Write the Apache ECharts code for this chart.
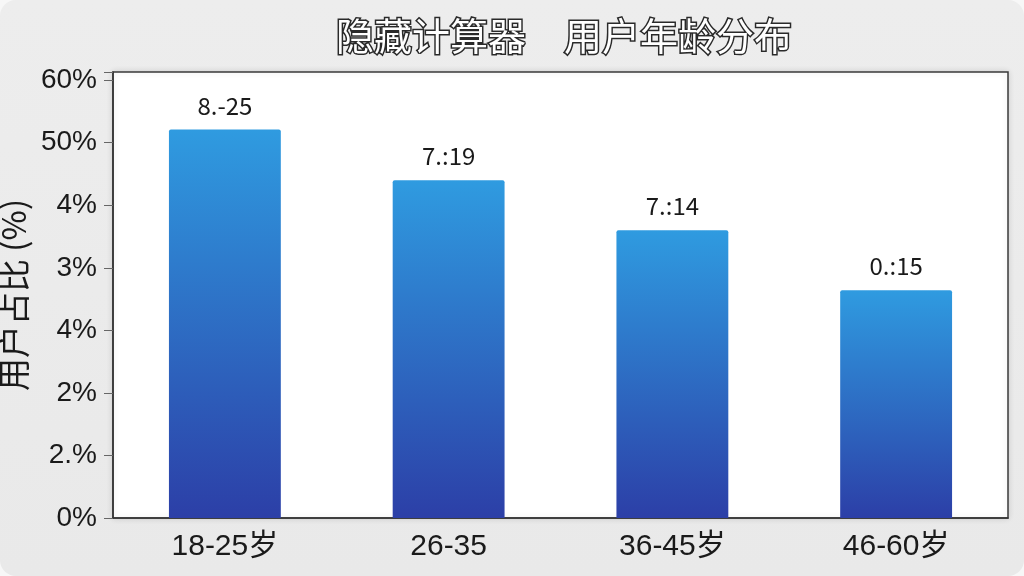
<!DOCTYPE html>
<html>
<head>
<meta charset="utf-8">
<title>用户年龄分布</title>
<script src="https://cdn.jsdelivr.net/npm/echarts@6/dist/echarts.min.js"></script>
<style>
  html, body { margin: 0; padding: 0; background: #f7f7f7; }
  #mainChart { width: 1024px; height: 576px; border-radius: 16px; overflow: hidden; }
</style>
</head>
<body>
<div id="mainChart"></div>
<script>
// chart data
var categories = ['18-25岁', '26-35', '36-45岁', '46-60岁'];
var shares = [62.1, 54.0, 46.0, 36.4];
var barLabels = ['8.-25', '7.:19', '7.:14', '0.:15'];
var yTickLabels = ['0%', '2.%', '2%', '4%', '3%', '4%', '50%', '60%'];

var CJK = '"Noto Sans CJK SC", sans-serif';
var SANS = '"Liberation Sans", "Noto Sans CJK SC", sans-serif';

function chartInit() {
  var myChart = echarts.init(document.getElementById('mainChart'));

  var option = {
    backgroundColor: new echarts.graphic.LinearGradient(0, 0, 0, 1, [
      { offset: 0, color: '#ededed' },
      { offset: 1, color: '#e9e9e9' }
    ]),
    title: {
      text: '隐藏计算器\u3000用户年龄分布',
      left: 331,
      top: 12,
      textStyle: {
        fontFamily: CJK,
        fontSize: 38,
        fontWeight: 'normal',
        color: '#ffffff',
        textBorderColor: '#2a2a2a',
        textBorderWidth: 3
      }
    },
    grid: {
      left: 113,
      right: 16,
      top: 72,
      bottom: 58,
      outerBoundsMode: 'none',
      containLabel: false,
      show: true,
      backgroundColor: '#ffffff',
      borderColor: '#3a3a3a',
      borderWidth: 1.5,
      shadowColor: 'rgba(0,0,0,0.12)',
      shadowBlur: 6
    },
    xAxis: {
      type: 'category',
      data: categories,
      axisLine: { lineStyle: { color: '#333', width: 1.5 } },
      axisTick: { alignWithLabel: true, length: 7, lineStyle: { color: '#555' } },
      axisLabel: {
        margin: 14,
        fontFamily: SANS,
        fontSize: 30,
        color: '#1a1a1a'
      }
    },
    yAxis: {
      type: 'value',
      min: 0,
      max: 71.3,
      interval: 10,
      name: '用户占比 (%)',
      nameLocation: 'middle',
      nameRotate: 90,
      nameGap: 72,
      nameTextStyle: {
        fontFamily: CJK,
        fontSize: 33,
        color: '#1a1a1a'
      },
      axisLine: { show: true, lineStyle: { color: '#333', width: 1.5 } },
      axisTick: { show: true, length: 9, lineStyle: { color: '#666' } },
      splitLine: { show: false },
      axisLabel: {
        margin: 16,
        fontFamily: SANS,
        fontSize: 28,
        color: '#1a1a1a',
        formatter: function (v) {
          if (v % 10 !== 0) return '';
          return yTickLabels[Math.round(v / 10)];
        }
      }
    },
    series: [
      {
        type: 'bar',
        data: shares,
        barWidth: '50%',
        itemStyle: {
          borderRadius: [2, 2, 0, 0],
          color: new echarts.graphic.LinearGradient(0, 0, 0, 1, [
            { offset: 0, color: '#2f9be0' },
            { offset: 1, color: '#2c3fa7' }
          ])
        },
        label: {
          show: true,
          position: 'top',
          distance: 12,
          fontFamily: CJK,
          fontSize: 24,
          color: '#1a1a1a',
          formatter: function (p) {
            return barLabels[p.dataIndex];
          }
        }
      }
    ]
  };
  myChart.setOption(option);
}

chartInit();
</script>
</body>
</html>
